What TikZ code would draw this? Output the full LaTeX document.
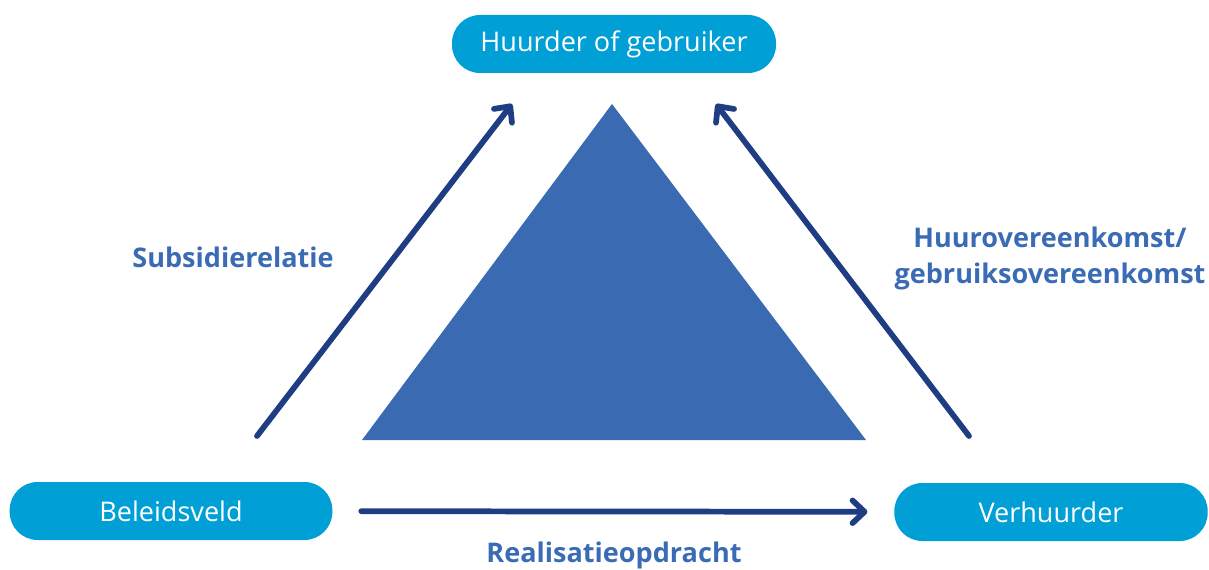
\documentclass[tikz,border=0pt]{standalone}
\usepackage{fontspec}
\setmainfont{Open Sans}
\usetikzlibrary{arrows.meta}
\definecolor{pill}{RGB}{0,160,214}
\definecolor{tri}{RGB}{58,107,178}
\definecolor{pijl}{RGB}{31,61,130}
\definecolor{lbl}{RGB}{58,107,181}
\begin{document}
\begin{tikzpicture}[x=0.75pt,y=-0.75pt,font=\fontsize{20.3}{24}\selectfont,
  p/.style={fill=pill,text=white,rounded corners=21pt,minimum height=43.5pt,inner sep=0pt},
  a/.style={draw=pijl,line width=4.3pt,line cap=round,-{Straight Barb[length=9pt,width=17pt,line cap=round,line join=round]}},
  l/.style={text=lbl,font=\fontsize{20.3}{27}\selectfont\bfseries,align=center}]
  \useasboundingbox (0,0) rectangle (1209,570);
  \node[p,minimum width=243pt] (hg)  at (614,44)  {Huurder of gebruiker};
  \node[p,minimum width=242pt] (bel) at (171,511) {Beleidsveld};
  \node[p,minimum width=235pt] (ver) at (1051,512) {Verhuurder};
  % driehoek in het midden
  \fill[tri] (612,104) -- (866,440) -- (362,440) -- cycle;
  % vrije eindpunten van de schuine pijlen
  \coordinate (s1) at (257,436); \coordinate (t1) at (512,104);
  \coordinate (s2) at (969,436); \coordinate (t2) at (716,104);
  \draw[a] (s1)--(t1); \draw[a] (s2)--(t2);
  \draw[a,shorten <=21.5pt,shorten >=20pt] (bel)--(ver);
  \node[l] (sub) at (233,257) {Subsidierelatie};
  \node[l] (huur) at (1050,258) {Huurovereenkomst/\\gebruiksovereenkomst};
  \node[l] (real) at (614,555) {Realisatieopdracht};
\end{tikzpicture}
\end{document}
